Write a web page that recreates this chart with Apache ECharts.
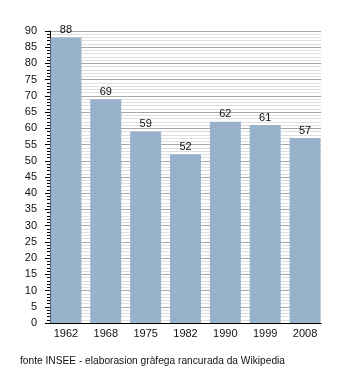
<!DOCTYPE html>
<html>
<head>
<meta charset="utf-8">
<script src="https://cdn.jsdelivr.net/npm/echarts@6/dist/echarts.min.js"></script>
<style>
html,body{margin:0;padding:0;background:#fff;}
#c{width:350px;height:373px;}
</style>
</head>
<body>
<div id="c"></div>
<script>
// Census years and population counts
const years = ['1962', '1968', '1975', '1982', '1990', '1999', '2008'];
const population = [88, 69, 59, 52, 62, 61, 57];
const sourceNote = 'fonte INSEE - elaborasion gràfega rancurada da Wikipedia';

const chart = echarts.init(document.getElementById('c'), null, {renderer: 'canvas'});
const font = '"Liberation Sans", Arial, sans-serif';
const txt = {fontFamily: font, fontSize: 11, color: '#111'};

chart.setOption({
  animation: false,
  backgroundColor: '#fff',
  // grid 0 carries the value axis and gridlines; grid 1 is a slightly wider
  // band so the bars sit flush with the plot edges
  grid: [
    {left: 50, right: 29, top: 31, bottom: 50, containLabel: false},
    {left: 46, right: 25, top: 31, bottom: 50, containLabel: false}
  ],
  title: {
    text: sourceNote,
    left: 20, top: 356,
    padding: 0,
    textStyle: {fontFamily: font, fontSize: 10.2, fontWeight: 'normal', color: '#111'}
  },
  xAxis: [{
    type: 'category',
    gridIndex: 0,
    data: years,
    axisLine: {show: true, lineStyle: {color: '#000', width: 1}},
    axisTick: {show: false},
    axisLabel: {show: false}
  }, {
    type: 'category',
    gridIndex: 1,
    data: years,
    axisLine: {show: false},
    axisTick: {show: false},
    axisLabel: Object.assign({margin: 5}, txt)
  }],
  yAxis: [{
    type: 'value',
    gridIndex: 0,
    min: 0, max: 90, interval: 5,
    axisLine: {show: true, lineStyle: {color: '#000', width: 1}},
    axisTick: {show: true, length: 5, lineStyle: {color: '#000'}},
    minorTick: {show: true, splitNumber: 5, length: 3, lineStyle: {color: '#000'}},
    splitLine: {show: true, lineStyle: {color: '#a8a8a8', width: 1}},
    minorSplitLine: {show: true, lineStyle: {color: '#dedede', width: 1}},
    axisLabel: Object.assign({margin: 13}, txt)
  }, {
    type: 'value',
    gridIndex: 1,
    min: 0, max: 90, interval: 5,
    show: false
  }],
  series: [{
    type: 'bar',
    xAxisIndex: 1,
    yAxisIndex: 1,
    data: population,
    barWidth: 31,
    itemStyle: {color: '#98b2cc'},
    label: Object.assign({show: true, position: 'top', distance: 2}, txt)
  }]
});
</script>
</body>
</html>
